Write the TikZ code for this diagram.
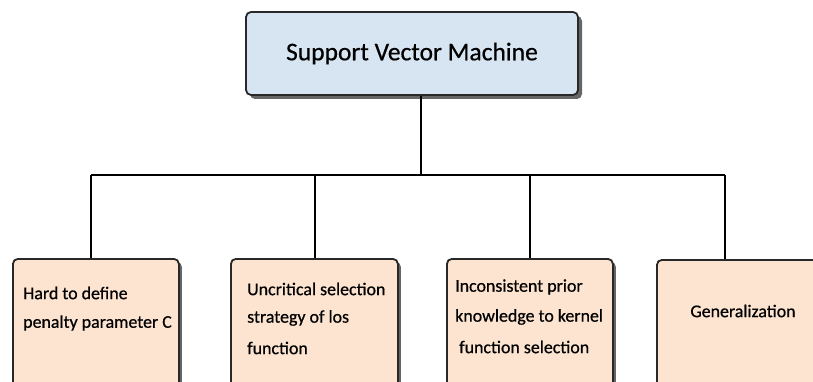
\documentclass[tikz,border=0pt]{standalone}
\usepackage{fontspec}
\setmainfont{Carlito}[FakeBold=0.6]
\usetikzlibrary{shadows}
\definecolor{rootfill}{RGB}{215,229,243}
\definecolor{leaffill}{RGB}{252,228,208}
\definecolor{edge}{RGB}{40,40,40}
\tikzset{
  boxshadow/.style={drop shadow={shadow xshift=3pt,shadow yshift=-3pt,opacity=0.6,fill=black}},
  rootshadow/.style={drop shadow={shadow xshift=4pt,shadow yshift=-4pt,opacity=0.6,fill=black}},
  rootbox/.style={draw=edge,line width=1.8pt,rounded corners=5pt,fill=rootfill,rootshadow,
    minimum width=332pt,minimum height=83pt,inner sep=0pt,font=\fontsize{25.5}{30}\selectfont},
  leafbox/.style={draw=edge,line width=1.8pt,rounded corners=5pt,fill=leaffill,boxshadow,
    minimum height=170pt,inner sep=0pt,anchor=north west},
  leaftext/.style={anchor=west,inner sep=0pt,font=\fontsize{17.9}{21}\selectfont},
  wire/.style={line width=1.8pt,black}
}
\begin{document}
\begin{tikzpicture}[x=1pt,y=-1pt]
  \useasboundingbox (0,0) rectangle (813,382);
  \clip (0,0) rectangle (813,382);
  \fill[white] (0,0) rectangle (813,382);

  % root of the tree
  \node[rootbox] (root) at (412,53.5) {Support Vector Machine};

  % four leaves
  \node[leafbox,minimum width=166pt] (l1) at (12,258) {};
  \node[leafbox,minimum width=167pt] (l2) at (230,258) {};
  \node[leafbox,minimum width=166pt] (l3) at (446,258) {};
  \node[leafbox,minimum width=176pt] (l4) at (656,259) {};

  % bus coordinates
  \coordinate (hub) at (421,175);
  \coordinate (c1) at (91,175);
  \coordinate (c2) at (315,175);
  \coordinate (c3) at (530,175);
  \coordinate (c4) at (725,175);

  \draw[wire] (root.south -| hub) -- (hub);
  \draw[wire] (c1) -- (c4);
  \draw[wire] (c1) -- (l1.north -| c1);
  \draw[wire] (c2) -- (l2.north -| c2);
  \draw[wire] (c3) -- (l3.north -| c3);
  \draw[wire] (c4) -- (l4.north -| c4);

  % leaf labels
  \node[leaftext] (t11) at (23,293) {Hard to define};
  \node[leaftext] (t12) at (23,323) {penalty parameter C};

  \node[leaftext] (t21) at (247,289) {Uncritical selection};
  \node[leaftext] (t22) at (247,318) {strategy of los};
  \node[leaftext] (t23) at (247,348) {function};

  \node[leaftext] (t31) at (455,287) {Inconsistent prior};
  \node[leaftext] (t32) at (455,317) {knowledge to kernel};
  \node[leaftext] (t33) at (459,347) {function selection};

  \node[leaftext,anchor=center] (t41) at (743,311) {Generalization};
\end{tikzpicture}
\end{document}
